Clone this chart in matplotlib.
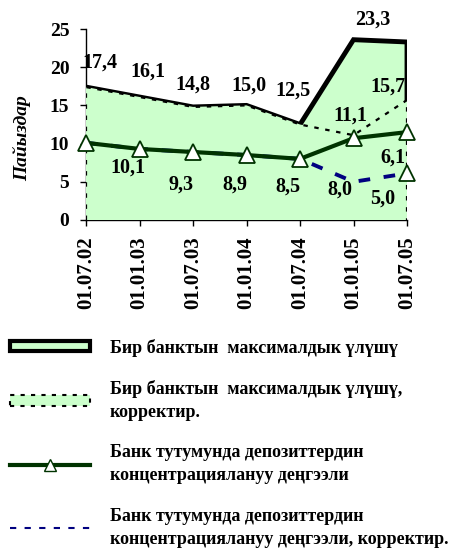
import matplotlib
matplotlib.use("Agg")
import matplotlib.pyplot as plt
from matplotlib.patches import Patch
from matplotlib.lines import Line2D

plt.rcParams['font.family'] = ['Liberation Serif', 'DejaVu Serif']
plt.rcParams['font.weight'] = 'bold'

dates = ['01.07.02', '01.01.03', '01.07.03', '01.01.04', '01.07.04', '01.01.05', '01.07.05']
max_share = [17.4, 16.1, 14.8, 15.0, 12.5, 23.6, 23.3]
max_share_corr = [17.4, 16.1, 14.8, 15.0, 12.5, 11.1, 15.7]
conc = [10.1, 9.3, 8.9, 8.5, 8.0, 10.7, 11.5]
conc_corr = [10.1, 9.3, 8.9, 8.5, 8.0, 5.0, 6.1]
yticks = [0, 5, 10, 15, 20, 25]

names = ['Бир банктын  максималдык үлүшү',
         'Бир банктын  максималдык үлүшү,\nкорректир.',
         'Банк тутумунда депозиттердин\nконцентрациялануу деңгээли',
         'Банк тутумунда депозиттердин\nконцентрациялануу деңгээли, корректир.']

FILL = '#CCFFCC'
GREEN = '#003300'
NAVY = '#000080'

W, H = 454, 554
fig = plt.figure(figsize=(W / 100, H / 100), dpi=100)
ax = fig.add_axes([86 / W, 1 - 220 / H, (407 - 86) / W, (220 - 29) / H])

x = list(range(len(dates)))
ax.fill_between(x, max_share, 0, facecolor=FILL, edgecolor='none', zorder=1)
xs = [x[0]] + x + [x[-1]]
ax.plot(xs, [0] + max_share + [0], color='black', lw=3.5, zorder=2,
        solid_joinstyle='miter')
ax.fill_between(x, max_share_corr, 0, facecolor=FILL, edgecolor='none', zorder=3)
ax.plot(xs, [0] + max_share_corr + [0], color='black', lw=1.6, ls=(0, (2, 3)), zorder=4)

ax.plot(x, conc_corr, color=NAVY, lw=2.8, ls=(0, (3, 3.5)), zorder=5)
ax.plot(x[-1:], conc_corr[-1:], ls='none', marker='^', ms=11, mfc='white', mec=GREEN,
        mew=1.3, zorder=7, clip_on=False)
ax.plot(x, conc, color=GREEN, lw=3, marker='^', ms=11, mfc='white', mec=GREEN, mew=1.3,
        zorder=6, clip_on=False)

fs = 14.5
def lab(xi, v, txt, dx, dy):
    ax.annotate(txt, (xi, v), xytext=(dx, dy), textcoords='offset pixels', ha='center',
                va='center', fontsize=fs, fontweight='bold', zorder=10, annotation_clip=False)

fmt = lambda v: f'{v:.1f}'.replace('.', ',')
max_off = [(14, 24), (8, 25), (0, 22), (2, 20), (-7, 34)]
for i, (dx, dy) in enumerate(max_off):
    lab(i, max_share[i], fmt(max_share[i]), dx, dy)
lab(6, max_share[6], fmt(max_share[6]), -34, 22)
lab(5, max_share_corr[5], fmt(max_share_corr[5]), -3, 20)
lab(6, max_share_corr[6], fmt(max_share_corr[6]), -19, 13)
conc_off = [(42, -25), (42, -36), (42, -33), (41, -32), (40, -31)]
for i, (dx, dy) in enumerate(conc_off):
    lab(i, conc[i], fmt(conc[i]), dx, dy)
lab(5, conc_corr[5], fmt(conc_corr[5]), 29, -17)
lab(6, conc_corr[6], fmt(conc_corr[6]), -14, 16)

ax.set_xlim(0, 6)
ax.set_ylim(0, 25)
ax.set_yticks(yticks)
ax.set_yticklabels([str(t) for t in yticks], fontsize=14, fontweight='bold')
ax.set_xticks(x)
ax.set_xticklabels(dates, rotation=90, fontsize=15, fontweight='bold')
ax.tick_params(axis='both', length=4, width=1, color='black')
ax.tick_params(axis='x', pad=8)
ax.tick_params(axis='y', pad=8)
for s in ['top', 'right']:
    ax.spines[s].set_visible(False)
for s in ['left', 'bottom']:
    ax.spines[s].set_linewidth(1)
ax.set_ylabel('Пайыздар', fontsize=14, fontstyle='italic', fontweight='bold')
ax.yaxis.set_label_coords(-0.17, 0.43)

handles = [
    Patch(facecolor=FILL, edgecolor='black', linewidth=3),
    Patch(facecolor=FILL, edgecolor='black', linewidth=1.5, linestyle=(0, (2, 3))),
    Line2D([], [], color=GREEN, lw=3, marker='^', ms=8, mfc='white', mec=GREEN),
    Line2D([], [], color=NAVY, lw=1.5, ls=(0, (3, 4))),
]
leg = fig.legend(handles, names, loc='upper left', bbox_to_anchor=(-0.005, 1 - 326 / H),
                 frameon=False, prop={'family': ['Liberation Serif', 'DejaVu Serif'],
                                       'weight': 'bold', 'size': 13},
                 handlelength=4.4, handleheight=0.5, handletextpad=1.1, labelspacing=1.3,
                 borderaxespad=0.3)
for t in leg.get_texts():
    t.set_linespacing(1.45)

fig.savefig('out.png', dpi=100)
